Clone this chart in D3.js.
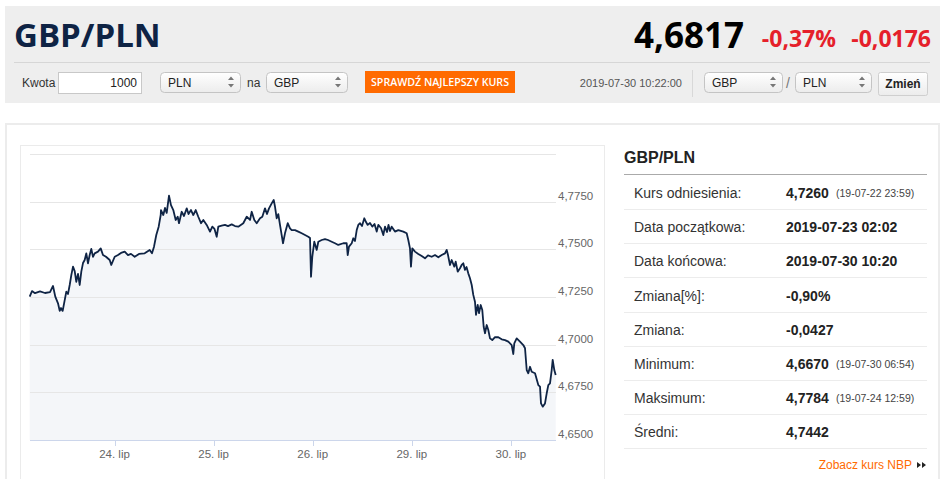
<!DOCTYPE html>
<html><head><meta charset="utf-8">
<script src="https://cdn.jsdelivr.net/npm/d3@7"></script>
<style>
body{margin:0;background:#fff;}
svg{display:block;font-family:"Liberation Sans",Arial,sans-serif;}
</style>
</head><body><svg id="c" width="945" height="479"></svg>
<script>
// trading hours elapsed since 2019-07-23 00:00 (weekend removed, ordinal axis)
const tradingHours = [3.46,4.02,4.75,5.96,7.17,8.38,9.11,9.66,10.32,10.73,11.04,11.45,11.94,12.33,12.74,13.15,13.54,13.95,14.36,14.75,15.16,15.57,15.96,16.37,16.78,17.17,17.58,17.99,18.38,18.79,19.20,20.00,20.66,21.21,21.94,22.84,23.22,24.05,24.85,25.57,26.47,27.27,27.99,28.89,29.93,31.31,32.52,33.08,33.57,34.12,34.70,35.19,35.26,35.82,36.23,36.64,37.20,37.68,38.24,38.82,39.31,39.62,40.27,40.83,41.49,41.92,42.53,43.08,43.67,44.29,44.95,45.51,46.33,47.13,47.69,48.22,48.75,49.14,49.96,50.76,51.49,52.38,53.18,53.98,55.19,56.02,56.82,57.23,57.86,58.44,59.24,59.80,60.45,60.93,61.42,62.07,62.56,62.87,63.28,63.67,64.08,64.49,64.81,65.29,65.95,66.50,66.91,67.71,68.51,69.34,70.14,70.93,71.35,71.59,71.90,72.39,72.97,73.36,74.18,74.98,75.71,76.60,77.40,78.20,79.41,80.23,80.48,80.79,81.45,81.83,82.24,82.66,83.04,83.46,83.94,84.50,84.91,85.32,85.88,86.43,86.97,87.50,87.89,88.54,89.10,89.51,89.99,90.36,90.72,91.13,91.93,92.73,93.94,94.76,95.15,95.56,95.80,96.12,96.77,97.57,98.40,99.20,99.92,100.82,101.62,102.42,103.24,104.04,104.45,104.77,105.25,105.66,106.29,106.63,107.12,107.67,108.08,108.47,108.88,109.25,109.68,110.09,110.51,110.89,111.30,111.55,111.96,112.27,112.69,113.07,113.41,113.73,114.14,114.53,114.94,115.49,116.15,116.95,117.77,118.57,119.37,120.19,120.58,120.82,121.40,122.20,123.00,123.42,123.83,124.21,124.63,125.04,125.84,126.64,127.05,127.29,127.71,128.26,128.67,129.06,129.47,129.88,130.12,130.51,130.85];
const rates = [4.7252,4.7281,4.7270,4.7279,4.7271,4.7276,4.7308,4.7252,4.7217,4.7177,4.7192,4.7177,4.7234,4.7278,4.7266,4.7313,4.7365,4.7409,4.7386,4.7330,4.7371,4.7313,4.7383,4.7428,4.7444,4.7479,4.7427,4.7470,4.7502,4.7461,4.7479,4.7488,4.7505,4.7470,4.7461,4.7444,4.7418,4.7461,4.7470,4.7481,4.7488,4.7470,4.7476,4.7461,4.7476,4.7479,4.7497,4.7479,4.7514,4.7575,4.7619,4.7680,4.7706,4.7680,4.7717,4.7691,4.7782,4.7732,4.7706,4.7654,4.7671,4.7637,4.7697,4.7675,4.7715,4.7685,4.7706,4.7680,4.7706,4.7671,4.7637,4.7654,4.7628,4.7593,4.7619,4.7607,4.7566,4.7619,4.7624,4.7628,4.7622,4.7631,4.7622,4.7619,4.7637,4.7671,4.7654,4.7697,4.7654,4.7637,4.7663,4.7671,4.7715,4.7685,4.7715,4.7741,4.7759,4.7724,4.7663,4.7685,4.7628,4.7575,4.7532,4.7584,4.7637,4.7610,4.7601,4.7601,4.7593,4.7584,4.7575,4.7566,4.7559,4.7356,4.7461,4.7540,4.7497,4.7540,4.7549,4.7554,4.7549,4.7540,4.7532,4.7523,4.7532,4.7532,4.7470,4.7514,4.7532,4.7558,4.7544,4.7601,4.7628,4.7637,4.7622,4.7663,4.7643,4.7628,4.7638,4.7619,4.7633,4.7593,4.7628,4.7612,4.7575,4.7619,4.7591,4.7628,4.7596,4.7619,4.7593,4.7601,4.7593,4.7584,4.7549,4.7505,4.7409,4.7505,4.7488,4.7476,4.7465,4.7453,4.7468,4.7461,4.7470,4.7458,4.7470,4.7479,4.7497,4.7470,4.7418,4.7444,4.7409,4.7435,4.7383,4.7401,4.7418,4.7427,4.7392,4.7407,4.7374,4.7348,4.7313,4.7261,4.7225,4.7156,4.7208,4.7165,4.7208,4.7182,4.7094,4.7060,4.7103,4.7077,4.7033,4.7024,4.7040,4.7039,4.7028,4.7024,4.7016,4.6998,4.6951,4.7007,4.7033,4.7016,4.6998,4.6981,4.6867,4.6850,4.6884,4.6858,4.6850,4.6788,4.6780,4.6692,4.6675,4.6692,4.6745,4.6788,4.6797,4.6867,4.6920,4.6867,4.6841];

const yTicks = [4.65,4.675,4.70,4.725,4.75,4.775,4.80];
const xTickHours = [24,48,72,96,120];
const xTickLabels = ["24. lip","25. lip","26. lip","29. lip","30. lip"];

const pairTitle = "GBP/PLN";
const lastRate = "4,6817";
const changePct = "-0,37%";
const changeAbs = "-0,0176";
const quoteTime = "2019-07-30 10:22:00";

const statLabels = ["Kurs odniesienia:","Data początkowa:","Data końcowa:","Zmiana[%]:","Zmiana:","Minimum:","Maksimum:","Średni:"];
const statValues = ["4,7260","2019-07-23 02:02","2019-07-30 10:20","-0,90%","-0,0427","4,6670","4,7784","4,7442"];
const statNotes = ["(19-07-22 23:59)","","","","","(19-07-30 06:54)","(19-07-24 12:59)",""];

const svg = d3.select("#c");
const OS = "'Open Sans',sans-serif";

// ---------- header ----------
const defs = svg.append("defs");
const g1 = defs.append("linearGradient").attr("id","selg").attr("x1",0).attr("y1",0).attr("x2",0).attr("y2",1);
g1.append("stop").attr("offset","0%").attr("stop-color","#ffffff");
g1.append("stop").attr("offset","100%").attr("stop-color","#ececec");

svg.append("rect").attr("x",5).attr("y",6).attr("width",935).attr("height",97).attr("fill","#eeeeee");
svg.append("line").attr("x1",14).attr("x2",930).attr("y1",62.5).attr("y2",62.5).attr("stroke","#d6d6d6");

svg.append("text").attr("x",14).attr("y",47).attr("font-family",OS).attr("font-weight",700)
  .attr("font-size",33).attr("fill","#0e2344").text(pairTitle);
svg.append("text").attr("x",744).attr("y",48).attr("text-anchor","end").attr("font-family",OS).attr("font-weight",700)
  .attr("font-size",35).attr("fill","#000").text(lastRate);
svg.append("text").attr("x",836).attr("y",47).attr("text-anchor","end").attr("font-family",OS).attr("font-weight",700)
  .attr("font-size",23).attr("fill","#e5202a").text(changePct);
svg.append("text").attr("x",931).attr("y",47).attr("text-anchor","end").attr("font-family",OS).attr("font-weight",700)
  .attr("font-size",23).attr("fill","#e5202a").text(changeAbs);

svg.append("text").attr("x",22).attr("y",87).attr("font-size",12).attr("fill","#333").text("Kwota");
svg.append("rect").attr("x",58.5).attr("y",72.5).attr("width",83).attr("height",21).attr("fill","#fff").attr("stroke","#c8c8c8");
svg.append("text").attr("x",137).attr("y",87).attr("text-anchor","end").attr("font-size",12).attr("fill","#222").text("1000");

function selectBox(x, w, label){
  svg.append("rect").attr("x",x+0.5).attr("y",72.5).attr("width",w).attr("height",20).attr("rx",4)
    .attr("fill","url(#selg)").attr("stroke","#c4c4c4");
  svg.append("text").attr("x",x+8).attr("y",86.5).attr("font-size",12).attr("fill","#222").text(label);
  const ax = x + w - 9;
  svg.append("path").attr("d",`M${ax-3},80 L${ax+3},80 L${ax},76.5 Z M${ax-3},84 L${ax+3},84 L${ax},87.5 Z`).attr("fill","#777");
}
selectBox(160, 80, "PLN");
svg.append("text").attr("x",247).attr("y",87).attr("font-size",12).attr("fill","#333").text("na");
selectBox(266, 81, "GBP");

svg.append("rect").attr("x",365).attr("y",71).attr("width",150).attr("height",22).attr("fill","#ff6a00");
svg.append("text").attr("x",371).attr("y",86).attr("font-family",OS).attr("font-weight",600).attr("font-size",10.5)
  .attr("fill","#fff").attr("textLength",138).attr("lengthAdjust","spacingAndGlyphs").text("SPRAWDŹ NAJLEPSZY KURS");

svg.append("text").attr("x",682).attr("y",87).attr("text-anchor","end").attr("font-size",11).attr("fill","#555").text(quoteTime);
svg.append("line").attr("x1",692.5).attr("x2",692.5).attr("y1",70).attr("y2",97).attr("stroke","#d8d8d8");
selectBox(704, 78, "GBP");
svg.append("text").attr("x",786).attr("y",88).attr("font-size",14).attr("fill","#777").text("/");
selectBox(795, 76, "PLN");
svg.append("rect").attr("x",878.5).attr("y",72.5).attr("width",49).attr("height",23).attr("rx",2)
  .attr("fill","url(#selg)").attr("stroke","#cfcfcf");
svg.append("text").attr("x",903).attr("y",88).attr("text-anchor","middle").attr("font-size",12).attr("font-weight",700).attr("fill","#222").text("Zmień");

// ---------- main panel ----------
svg.append("rect").attr("x",6).attr("y",124).attr("width",933).attr("height",380).attr("fill","#fff")
  .attr("stroke","#ececec").attr("stroke-width",2);
svg.append("rect").attr("x",20.5).attr("y",145.5).attr("width",584).attr("height",360).attr("fill","#fff").attr("stroke","#ebebeb");

// ---------- chart ----------
const x = d3.scaleLinear().domain([0,120]).range([15.4, 510.9]);
const y = d3.scaleLinear().domain([4.65,4.80]).range([440,154]);
const plotL = 30, plotR = 556;
const data = d3.zip(tradingHours, rates);

const chart = svg.append("g");
chart.append("path").datum(data)
  .attr("d", d3.area().x(d=>x(d[0])).y0(y(4.65)).y1(d=>y(d[1])))
  .attr("fill","#f4f6f9");

chart.selectAll("line.grid").data(yTicks.slice(1)).join("line").attr("class","grid")
  .attr("x1",plotL).attr("x2",plotR).attr("y1",d=>Math.round(y(d))+0.5).attr("y2",d=>Math.round(y(d))+0.5)
  .attr("stroke","#e6e6e6").attr("stroke-width",1.2);

chart.append("path").datum(data)
  .attr("d", d3.line().x(d=>x(d[0])).y(d=>y(d[1])))
  .attr("fill","none").attr("stroke","#0f2445").attr("stroke-width",1.8).attr("stroke-linejoin","round");

// x axis
chart.append("line").attr("x1",plotL).attr("x2",plotR).attr("y1",440.5).attr("y2",440.5).attr("stroke","#ccd6eb");
chart.selectAll("line.xt").data(xTickHours).join("line").attr("class","xt")
  .attr("x1",d=>Math.round(x(d))+0.5).attr("x2",d=>Math.round(x(d))+0.5).attr("y1",441).attr("y2",446).attr("stroke","#ccd6eb");
chart.selectAll("text.xl").data(xTickHours).join("text").attr("class","xl")
  .attr("x",d=>x(d)).attr("y",458).attr("text-anchor","middle").attr("font-size",11.5).attr("fill","#666")
  .text((d,i)=>xTickLabels[i]);

// y labels
chart.selectAll("text.yl").data(yTicks.slice(0,6)).join("text").attr("class","yl")
  .attr("x",558).attr("y",d=>y(d)-2).attr("font-size",11.5).attr("fill","#666")
  .text(d=>d3.format(".4f")(d).replace(".",","));

// ---------- stats table ----------
svg.append("text").attr("x",624).attr("y",163).attr("font-size",16).attr("font-weight",700).attr("fill","#222").text(pairTitle);
svg.append("line").attr("x1",624).attr("x2",927).attr("y1",174.5).attr("y2",174.5).attr("stroke","#aaa");
const rowH = 34.2, row0 = 193;
statLabels.forEach((lab,i)=>{
  const cy = row0 + i*rowH;
  svg.append("text").attr("x",634).attr("y",cy+5).attr("font-size",14).attr("fill","#333").text(lab);
  svg.append("text").attr("x",786).attr("y",cy+5).attr("font-size",14).attr("font-weight",700).attr("fill","#222").text(statValues[i]);
  if(statNotes[i]) svg.append("text").attr("x",836).attr("y",cy+4).attr("font-size",10.5).attr("fill","#444").text(statNotes[i]);
  svg.append("line").attr("x1",624).attr("x2",927).attr("y1",Math.round(cy+16)+0.5).attr("y2",Math.round(cy+16)+0.5).attr("stroke","#ececec");
});
svg.append("text").attr("x",912).attr("y",469).attr("text-anchor","end").attr("font-size",12).attr("fill","#ff6a00").text("Zobacz kurs NBP");
svg.append("path").attr("d","M917,462 L921,465 L917,468 Z M922,462 L926,465 L922,468 Z").attr("fill","#222");
</script>
</body></html>
